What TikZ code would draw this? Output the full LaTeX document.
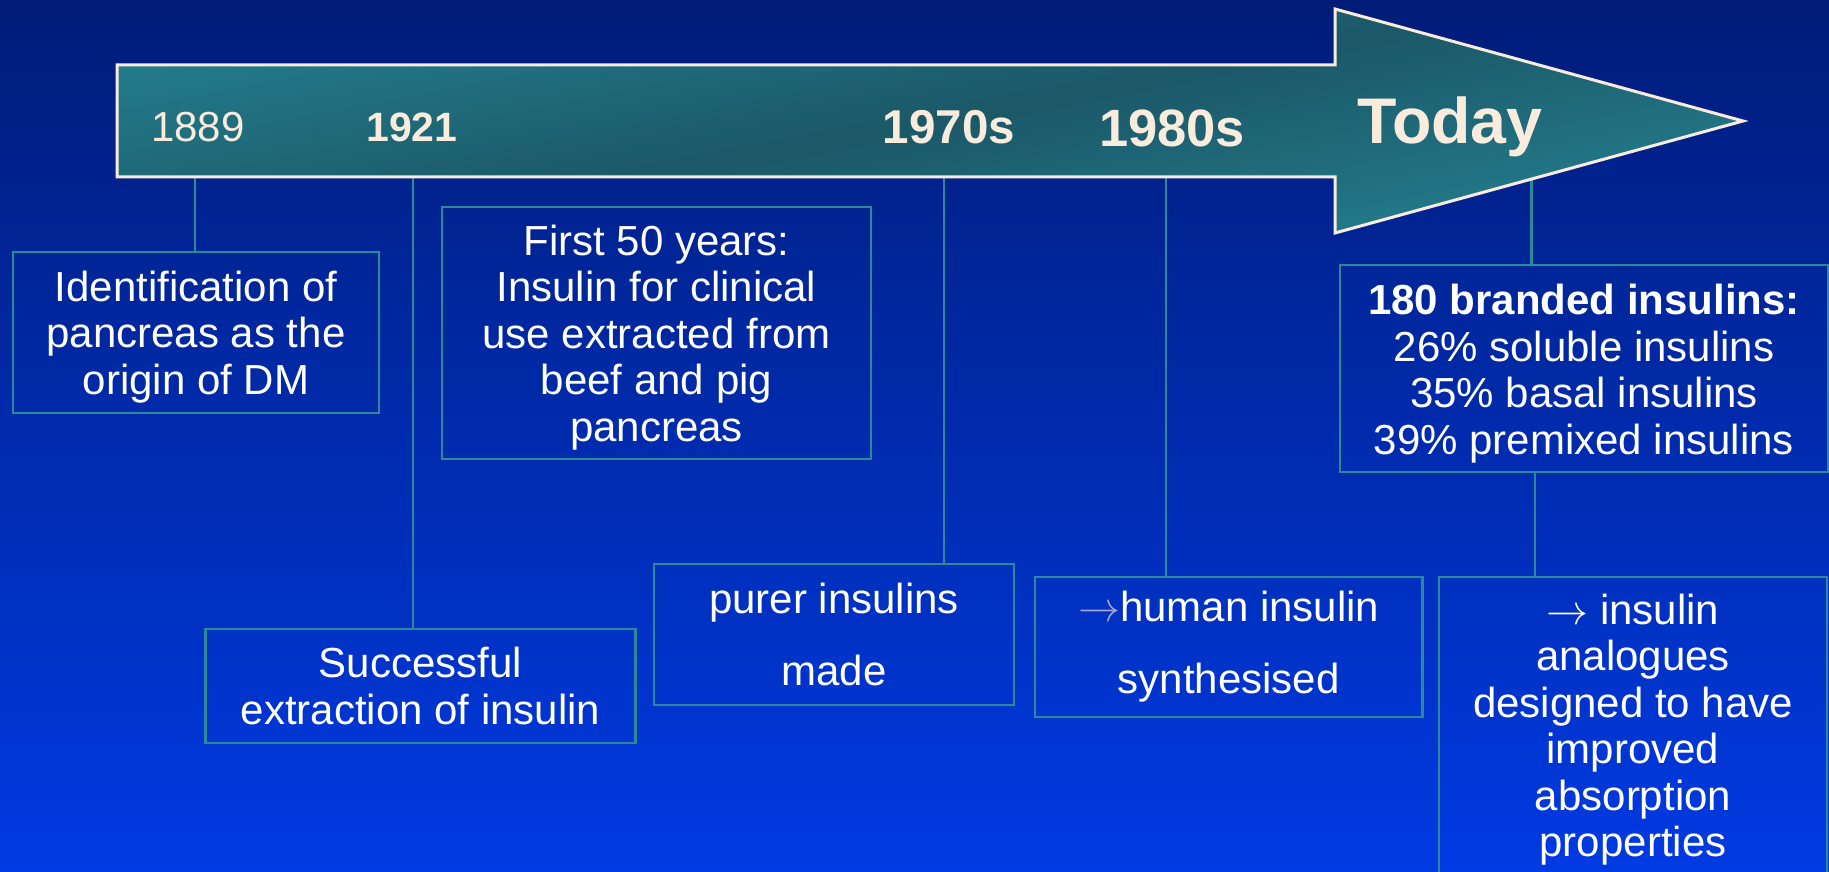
\RequirePackage{fix-cm}
\documentclass[tikz,border=0pt]{standalone}
\usepackage{fontspec}
\setmainfont{Liberation Sans}
\definecolor{bgtop}{RGB}{0,28,120}
\definecolor{bgbot}{RGB}{0,58,226}
\definecolor{tealL}{RGB}{36,126,142}
\definecolor{tealD}{RGB}{27,88,104}
\definecolor{cream}{RGB}{250,236,220}
\definecolor{conn}{RGB}{42,138,154}
\definecolor{lav}{RGB}{165,165,215}
\newcommand{\pushdown}[1]{\rule{0pt}{#1}}
\tikzset{
  yearlbl/.style={anchor=base, text=cream, inner sep=0pt},
  infobox/.style={draw=conn, line width=2.5pt, text=white, align=center, inner sep=0pt,
    font={\fontsize{42}{46.5}\selectfont}},
  connline/.style={draw=conn, line width=2.5pt},
  arrowshape/.style={draw=cream, line width=3pt, top color=tealL, bottom color=tealL,
    middle color=tealD, shading angle=11},
}
\begin{document}
\begin{tikzpicture}[x=1pt,y=-1pt]
\useasboundingbox (0,0) rectangle (1829,872);
\clip (0,0) rectangle (1829,872);
\shade[top color=bgtop, bottom color=bgbot] (0,0) rectangle (1829,872);

% boxes
\node[infobox, minimum width=366.4pt, minimum height=161pt] (b1889) at (196,332.5)
  {\pushdown{39pt}Identification of\\pancreas as the\\origin of DM};
\node[infobox, minimum width=429pt, minimum height=252pt] (b50) at (656.5,333)
  {\pushdown{39pt}First 50 years:\\Insulin for clinical\\use extracted from\\beef and pig\\pancreas};
\node[infobox, minimum width=430pt, minimum height=114pt] (b1921) at (420.5,686)
  {Successful\\extraction of insulin};
\node[infobox, minimum width=360pt, minimum height=141pt] (b70) at (834,634.5)
  {purer insulins\\[25.5pt]made};
\node[infobox, minimum width=387.5pt, minimum height=140pt] (b80) at (1228.75,647)
  {{\color{lav}$\rightarrow$}human insulin\\[25.5pt]synthesised};
\node[infobox, minimum width=488pt, minimum height=207pt] (b180) at (1584,368.5)
  {\pushdown{41pt}\textbf{180 branded insulins:}\\26\% soluble insulins\\35\% basal insulins\\39\% premixed insulins};
\node[infobox, minimum width=388pt, minimum height=305pt] (bana) at (1633,729.5)
  {$\rightarrow$ insulin\\analogues\\designed to have\\improved\\absorption\\properties};

% anchor points on the arrow
\coordinate (a1889) at (195,177);
\coordinate (a1921) at (413,177);
\coordinate (a1970) at (944,177);
\coordinate (a1980) at (1166,177);
\coordinate (atoday) at (1531.5,179);
\coordinate (c180) at (1535,472);

% connectors
\draw[connline] (a1889) -- (a1889 |- b1889.north);
\draw[connline] (a1921) -- (a1921 |- b1921.north);
\draw[connline] (a1970) -- (a1970 |- b70.north);
\draw[connline] (a1980) -- (a1980 |- b80.north);
\draw[connline] (atoday) -- (atoday |- b180.north);
\draw[connline] (c180 |- b180.south) -- (c180 |- bana.north);

% timeline arrow
\path[arrowshape] (117,65) -- (1335,65) -- (1335,9) -- (1743,121) -- (1335,233)
  -- (1335,177) -- (117,177) -- cycle;

% year labels
\node[yearlbl, font={\fontsize{42}{48}\selectfont}] (y1889) at (198,142) {1889};
\node[yearlbl, font={\fontsize{41}{48}\selectfont\bfseries}] (y1921) at (412,142) {1921};
\node[yearlbl, font={\fontsize{47.5}{54}\selectfont\bfseries}] (y1970) at (949,143) {1970s};
\node[yearlbl, font={\fontsize{52.5}{60}\selectfont\bfseries}] (y1980) at (1172,147) {1980s};
\node[yearlbl, font={\fontsize{64.5}{72}\selectfont\bfseries}] (ytoday) at (1450,143) {Today};
\end{tikzpicture}
\end{document}
